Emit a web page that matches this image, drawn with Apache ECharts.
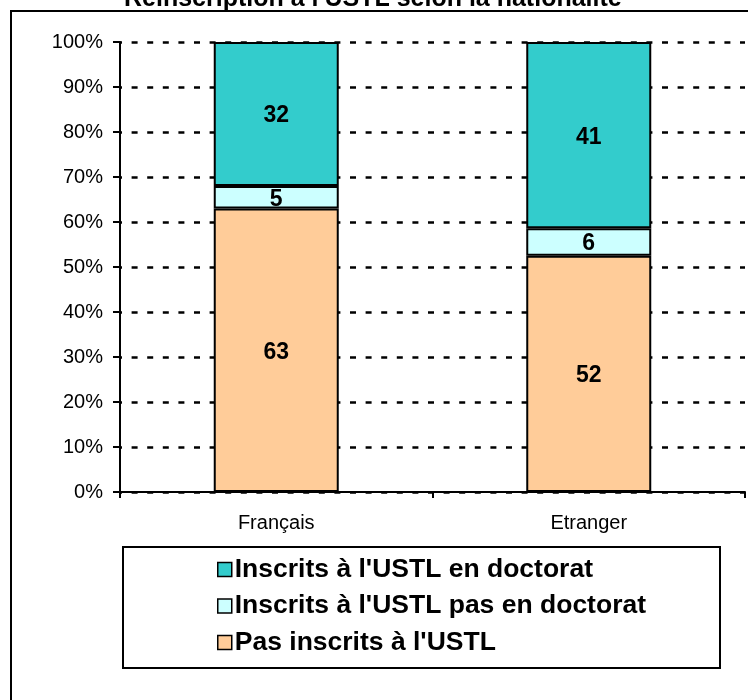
<!DOCTYPE html>
<html>
<head>
<meta charset="utf-8">
<script src="https://cdn.jsdelivr.net/npm/echarts@6/dist/echarts.min.js"></script>
<style>
  html, body { margin: 0; padding: 0; background: #fff; }
  #chart { width: 748px; height: 700px; }
</style>
</head>
<body>
<div id="chart"></div>
<script>
const titleText = "Réinscription à l'USTL selon la nationalité";
const categories = ["Français", "Etranger"];
const seriesNames = ["Pas inscrits à l'USTL", "Inscrits à l'USTL pas en doctorat", "Inscrits à l'USTL en doctorat"];
const pasInscrits = [63, 52];
const inscritsPasDoctorat = [5, 6];
const inscritsDoctorat = [32, 41];
const seriesColors = ["#FFCC99", "#CCFFFF", "#33CCCC"];
const legendOrder = ["Inscrits à l'USTL en doctorat", "Inscrits à l'USTL pas en doctorat", "Pas inscrits à l'USTL"];

const raw = [pasInscrits, inscritsPasDoctorat, inscritsDoctorat];
const totals = categories.map((c, i) => raw.reduce((s, arr) => s + arr[i], 0));

const FONT = "Liberation Sans, Arial, sans-serif";

const series = raw.map((arr, k) => ({
  name: seriesNames[k],
  type: 'bar',
  stack: 'total',
  barWidth: 125,
  data: arr.map((v, i) => ({ value: v / totals[i] * 100, raw: v })),
  itemStyle: { color: seriesColors[k], borderColor: '#000', borderWidth: 2 },
  label: {
    show: true,
    position: 'inside',
    offset: [0, 2],
    color: '#000',
    fontFamily: FONT,
    fontWeight: 'bold',
    fontSize: 23,
    formatter: p => p.data.raw
  }
}));

const chart = echarts.init(document.getElementById('chart'), null, { renderer: 'canvas' });
chart.setOption({
  animation: false,
  backgroundColor: '#fff',
  title: {
    text: titleText,
    left: 119,
    top: -18,
    textStyle: { fontFamily: FONT, fontWeight: 'bold', fontSize: 25, color: '#000' }
  },
  graphic: [
    {
      type: 'rect',
      shape: { x: 11, y: 11, width: 900, height: 900 },
      style: { fill: 'none', stroke: '#000', lineWidth: 2 },
      z: 0, silent: true
    },
    {
      type: 'rect',
      shape: { x: 123, y: 547, width: 597, height: 121 },
      style: { fill: 'none', stroke: '#000', lineWidth: 2 },
      z: 0, silent: true
    }
  ],
  legend: {
    data: legendOrder,
    orient: 'vertical',
    left: 217,
    top: 556,
    padding: 0,
    itemGap: 9.5,
    itemWidth: 14,
    itemHeight: 14,
    icon: 'rect',
    selectedMode: false,
    textStyle: { fontFamily: FONT, fontWeight: 'bold', fontSize: 26.5, color: '#000', lineHeight: 25, padding: [0, 0, 0, -2] },
    itemStyle: { borderColor: '#000', borderWidth: 1.5 }
  },
  grid: {
    left: 120, right: 3, top: 42, bottom: 208,
    containLabel: false,
    outerBoundsMode: 'none'
  },
  xAxis: {
    type: 'category',
    data: categories,
    axisLine: { lineStyle: { color: '#000', width: 2 } },
    axisTick: { show: true, length: 6, lineStyle: { color: '#000', width: 2 } },
    axisLabel: { fontFamily: FONT, fontSize: 20, color: '#000', margin: 21 },
    splitLine: { show: false }
  },
  yAxis: {
    type: 'value',
    min: 0, max: 100, interval: 10,
    axisLine: { show: true, lineStyle: { color: '#000', width: 2 } },
    axisTick: { show: true, length: 7, lineStyle: { color: '#000', width: 2 } },
    axisLabel: { fontFamily: FONT, fontSize: 20, color: '#000', margin: 17, formatter: '{value}%' },
    splitLine: { show: true, lineStyle: { color: '#000', width: 2.5, type: [6, 9.6], dashOffset: 4 } }
  },
  series: series
});
</script>
</body>
</html>
